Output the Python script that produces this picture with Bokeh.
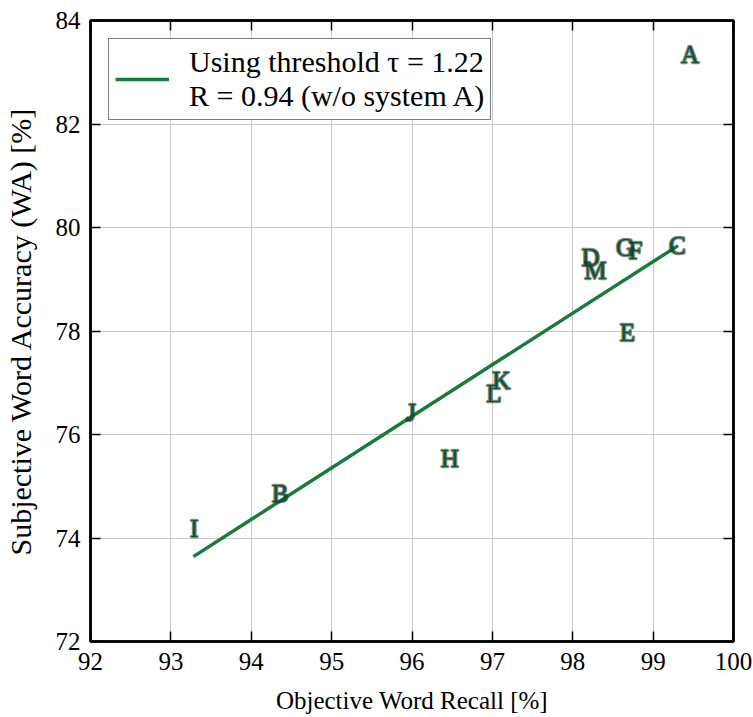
from bokeh.plotting import figure
from bokeh.models import ColumnDataSource, Legend, LegendItem, LinearAxis, FixedTicker, Range1d
from bokeh.core.properties import value
from bokeh.embed import file_html
from bokeh.resources import INLINE

systems = ["A", "B", "C", "D", "E", "F", "G", "H", "I", "J", "K", "L", "M"]
recall = [99.46, 94.36, 99.30, 98.22, 98.68, 98.78, 98.65, 96.47, 93.29, 95.99, 97.11, 97.02, 98.28]
accuracy = [83.34, 74.86, 79.65, 79.42, 77.97, 79.56, 79.61, 75.54, 74.18, 76.43, 77.04, 76.79, 79.17]
fit_x = [93.28, 99.31]
fit_y = [73.64, 79.65]
x_ticks = [92, 93, 94, 95, 96, 97, 98, 99, 100]
y_ticks = [72, 74, 76, 78, 80, 82, 84]

GREEN = "#1b7a40"
FONT = "Liberation Serif"

p = figure(width=753, height=717, output_backend="svg", toolbar_location=None,
           x_range=Range1d(92, 100), y_range=Range1d(72, 84),
           min_border_left=90, min_border_right=20, min_border_top=20, min_border_bottom=76)
p.outline_line_color = "black"
p.outline_line_width = 2.5

src = ColumnDataSource(dict(x=recall, y=accuracy, t=systems))
line = p.line(fit_x, fit_y, line_color=GREEN, line_width=3.5)
p.text("x", "y", text="t", source=src, text_color="#1f7f44",
       text_outline_color="rgba(10,40,20,0.55)",
       text_align="center", text_baseline="middle", text_font=value(FONT),
       text_font_size="25px")

for ax in p.xaxis + p.yaxis:
    ax.major_label_text_font = FONT
    ax.major_label_text_font_size = "25px"
    ax.major_label_text_color = "black"
    ax.axis_label_text_font = FONT
    ax.axis_label_text_font_style = "normal"
    ax.axis_label_text_color = "black"
    ax.axis_line_color = "black"
    ax.axis_line_width = 2.5
    ax.major_tick_in = 10
    ax.major_tick_out = 0
    ax.major_tick_line_width = 1.5
    ax.minor_tick_line_color = None
p.xaxis.ticker = FixedTicker(ticks=x_ticks)
p.yaxis.ticker = FixedTicker(ticks=y_ticks)
p.xaxis.axis_label = "Objective Word Recall [%]"
p.yaxis.axis_label = "Subjective Word Accuracy (WA) [%]"
p.xaxis.axis_label_text_font_size = "25px"
p.yaxis.axis_label_text_font_size = "30px"
p.xaxis.major_label_standoff = 11
p.yaxis.major_label_standoff = 10
p.xaxis.axis_label_standoff = 14
p.yaxis.axis_label_standoff = 16

top = LinearAxis(ticker=FixedTicker(ticks=x_ticks), major_label_overrides={t: "" for t in x_ticks},
                 major_tick_in=10, major_tick_out=0, minor_tick_line_color=None,
                 axis_line_width=2.5, major_tick_line_width=1.5, major_label_standoff=0)
right = LinearAxis(ticker=FixedTicker(ticks=y_ticks), major_label_overrides={t: "" for t in y_ticks},
                   major_tick_in=10, major_tick_out=0, minor_tick_line_color=None,
                   axis_line_width=2.5, major_tick_line_width=1.5, major_label_standoff=0)
p.add_layout(top, "above")
p.add_layout(right, "right")

p.xgrid.ticker = FixedTicker(ticks=x_ticks)
p.ygrid.ticker = FixedTicker(ticks=y_ticks)
p.grid.grid_line_color = "#c8c8c8"
p.grid.grid_line_width = 1

legend = Legend(items=[LegendItem(label="Using threshold τ = 1.22\nR = 0.94 (w/o system A)", renderers=[line])],
                location="top_left")
legend.label_text_font = FONT
legend.label_text_font_size = "30px"
legend.label_text_color = "black"
legend.label_text_line_height = 0.9
legend.glyph_width = 54
legend.label_standoff = 20
legend.border_line_color = "black"
legend.border_line_width = 1.5
legend.margin = 18
legend.padding = 6
legend.background_fill_alpha = 1.0
p.add_layout(legend)

open("out.html", "w").write(file_html(p, INLINE))
